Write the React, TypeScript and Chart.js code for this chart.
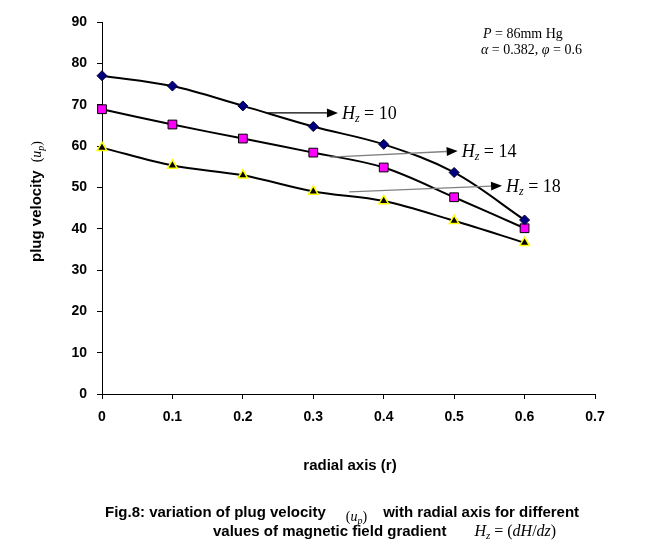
import { useEffect, useRef } from 'react';
import { Chart, registerables } from 'chart.js';

Chart.register(...registerables);

// ---- data ----
const radialR = [0, 0.1, 0.2, 0.3, 0.4, 0.5, 0.6];
const velHz10 = [77, 74.5, 69.7, 64.7, 60.4, 53.6, 42.1];
const velHz14 = [68.9, 65.2, 61.8, 58.4, 54.8, 47.6, 40.1];
const velHz18 = [59.6, 55.3, 52.9, 49.0, 46.7, 41.9, 36.6];
const hzValues = ['10', '14', '18'];
const xMin = 0;
const xMax = 0.7;
const xStep = 0.1;
const yMin = 0;
const yMax = 90;
const yStep = 10;
// label arrows in data coordinates: [x, y]
const arrowFrom = [
  [0.236, 68.0],
  [0.324, 57.3],
  [0.351, 48.9],
];
const arrowTo = [
  [0.335, 68.0],
  [0.505, 58.8],
  [0.568, 50.4],
];
const paramLine1 = 'P = 86mm Hg';

const SERIF = '"Liberation Serif", "Times New Roman", serif';
const SANS = '"Liberation Sans", Arial, sans-serif';

type Run = { t: string; f: string; dy?: number };

function drawRuns(ctx: CanvasRenderingContext2D, x: number, y: number, runs: Run[]) {
  let cx = x;
  for (const r of runs) {
    ctx.font = r.f;
    ctx.fillText(r.t, cx, y + (r.dy || 0));
    cx += ctx.measureText(r.t).width;
  }
  return cx;
}

function arrow(ctx: CanvasRenderingContext2D, x1: number, y1: number, x2: number, y2: number, lineColor: string) {
  const ang = Math.atan2(y2 - y1, x2 - x1);
  const hl = 11;
  const hw = 4.5;
  const bx = x2 - hl * Math.cos(ang);
  const by = y2 - hl * Math.sin(ang);
  ctx.save();
  ctx.strokeStyle = lineColor;
  ctx.lineWidth = 1.3;
  ctx.beginPath();
  ctx.moveTo(x1, y1);
  ctx.lineTo(bx, by);
  ctx.stroke();
  ctx.fillStyle = '#000';
  ctx.beginPath();
  ctx.moveTo(x2, y2);
  ctx.lineTo(bx + hw * Math.sin(ang), by - hw * Math.cos(ang));
  ctx.lineTo(bx - hw * Math.sin(ang), by + hw * Math.cos(ang));
  ctx.closePath();
  ctx.fill();
  ctx.restore();
}

const textPlugin = {
  id: 'textPlugin',
  beforeDraw(chart: any) {
    const ctx = chart.ctx;
    ctx.save();
    ctx.fillStyle = '#fff';
    ctx.fillRect(0, 0, chart.width, chart.height);
    ctx.restore();
  },
  afterDraw(chart: any) {
    const ctx: CanvasRenderingContext2D = chart.ctx;
    const xs = chart.scales.x;
    const ys = chart.scales.y;
    ctx.save();
    ctx.fillStyle = '#000';
    ctx.textAlign = 'left';
    ctx.textBaseline = 'alphabetic';

    // arrows + labels
    for (let i = 0; i < hzValues.length; i++) {
      const x1 = xs.getPixelForValue(arrowFrom[i][0]);
      const y1 = ys.getPixelForValue(arrowFrom[i][1]);
      const x2 = xs.getPixelForValue(arrowTo[i][0]);
      const y2 = ys.getPixelForValue(arrowTo[i][1]);
      arrow(ctx, x1, y1, x2, y2, i === 0 ? '#000' : '#808080');
      ctx.fillStyle = '#000';
      drawRuns(ctx, x2 + 4, y2 + 6, [
        { t: 'H', f: `italic 18px ${SERIF}` },
        { t: 'z', f: `italic 12px ${SERIF}`, dy: 3 },
        { t: ' = ' + hzValues[i], f: `18px ${SERIF}` },
      ]);
    }

    // parameters
    const px = chart.chartArea.right - 114;
    drawRuns(ctx, px + 2, chart.chartArea.top + 16, [
      { t: 'P', f: `italic 14px ${SERIF}` },
      { t: paramLine1.slice(1), f: `14px ${SERIF}` },
    ]);
    drawRuns(ctx, px, chart.chartArea.top + 32, [
      { t: 'α', f: `italic 14px ${SERIF}` },
      { t: ' = 0.382, ', f: `14px ${SERIF}` },
      { t: 'φ', f: `italic 14px ${SERIF}` },
      { t: ' = 0.6', f: `14px ${SERIF}` },
    ]);

    // x axis title
    ctx.font = `bold 15px ${SANS}`;
    ctx.textAlign = 'center';
    ctx.fillText('radial axis (r)', 350, 470);
    ctx.textAlign = 'left';

    // y axis title (rotated)
    ctx.save();
    ctx.translate(41, 0);
    ctx.rotate(-Math.PI / 2);
    const endX = drawRuns(ctx, -262, 0, [{ t: 'plug velocity', f: `bold 15px ${SANS}` }]);
    drawRuns(ctx, endX + 8, 0, [
      { t: '(', f: `14px ${SERIF}` },
      { t: 'u', f: `italic 14px ${SERIF}` },
      { t: 'p', f: `italic 10px ${SERIF}`, dy: 3 },
      { t: ')', f: `14px ${SERIF}` },
    ]);
    ctx.restore();

    // caption
    let cx = drawRuns(ctx, 105, 517, [{ t: 'Fig.8: variation of plug velocity', f: `bold 15px ${SANS}` }]);
    cx = drawRuns(ctx, cx + 20, 521, [
      { t: '(', f: `14px ${SERIF}` },
      { t: 'u', f: `italic 14px ${SERIF}` },
      { t: 'p', f: `italic 10px ${SERIF}`, dy: 3 },
      { t: ')', f: `14px ${SERIF}` },
    ]);
    drawRuns(ctx, cx + 16, 517, [{ t: 'with radial axis for different', f: `bold 15px ${SANS}` }]);
    cx = drawRuns(ctx, 213, 536, [{ t: 'values of magnetic field gradient', f: `bold 15px ${SANS}` }]);
    drawRuns(ctx, cx + 28, 536, [
      { t: 'H', f: `italic 16px ${SERIF}` },
      { t: 'z', f: `italic 11px ${SERIF}`, dy: 3 },
      { t: ' = (', f: `16px ${SERIF}` },
      { t: 'dH', f: `italic 16px ${SERIF}` },
      { t: '/', f: `16px ${SERIF}` },
      { t: 'dz', f: `italic 16px ${SERIF}` },
      { t: ')', f: `16px ${SERIF}` },
    ]);
    ctx.restore();
  },
};

export default function App() {
  const ref = useRef<HTMLCanvasElement | null>(null);
  useEffect(() => {
    if (!ref.current) return;
    const mk = (vals: number[]) => radialR.map((r, i) => ({ x: r, y: vals[i] }));
    const chart = new Chart(ref.current, {
      type: 'line',
      data: {
        datasets: [
          {
            label: 'Hz = ' + hzValues[0],
            data: mk(velHz10),
            borderColor: '#000',
            borderWidth: 2,
            tension: 0.35,
            clip: false,
            pointStyle: 'rectRot',
            pointRadius: 5,
            pointBackgroundColor: '#000080',
            pointBorderColor: '#000033',
            pointBorderWidth: 1,
          },
          {
            label: 'Hz = ' + hzValues[1],
            data: mk(velHz14),
            borderColor: '#000',
            borderWidth: 2,
            tension: 0.35,
            clip: false,
            pointStyle: 'rect',
            pointRadius: 6.2,
            pointBackgroundColor: '#ff00ff',
            pointBorderColor: '#000',
            pointBorderWidth: 1,
          },
          {
            label: 'Hz = ' + hzValues[2],
            data: mk(velHz18),
            borderColor: '#000',
            borderWidth: 2,
            tension: 0.35,
            clip: false,
            pointStyle: 'triangle',
            pointRadius: 5.5,
            pointBackgroundColor: '#000',
            pointBorderColor: '#ffff00',
            pointBorderWidth: 1.5,
          },
        ],
      },
      options: {
        responsive: false,
        animation: false,
        events: [],
        layout: { padding: { left: 0, top: 22, right: 63, bottom: 0 } },
        plugins: { legend: { display: false }, tooltip: { enabled: false }, title: { display: false } },
        scales: {
          x: {
            type: 'linear',
            min: xMin,
            max: xMax,
            afterFit: (s: any) => {
              s.height = 164;
            },
            ticks: {
              stepSize: xStep,
              color: '#000',
              font: { family: SANS, size: 14, weight: 'bold' },
              padding: 10,
              maxRotation: 0,
              callback: (v: any) => String(Math.round(Number(v) * 10) / 10),
            },
            grid: { display: true, drawOnChartArea: false, drawTicks: true, tickLength: 5, color: '#000' },
            border: { display: true, color: '#000', width: 1 },
          },
          y: {
            type: 'linear',
            min: yMin,
            max: yMax,
            afterFit: (s: any) => {
              s.width = 102;
            },
            ticks: {
              stepSize: yStep,
              color: '#000',
              font: { family: SANS, size: 14, weight: 'bold' },
              padding: 10,
            },
            grid: { display: true, drawOnChartArea: false, drawTicks: true, tickLength: 5, color: '#000' },
            border: { display: true, color: '#000', width: 1 },
          },
        },
      },
      plugins: [textPlugin],
    } as any);
    return () => chart.destroy();
  }, []);
  return (
    <div style={{ position: 'absolute', left: 0, top: 0, width: 658, height: 558, background: '#fff' }}>
      <canvas ref={ref} width={658} height={558} style={{ display: 'block' }} />
    </div>
  );
}
